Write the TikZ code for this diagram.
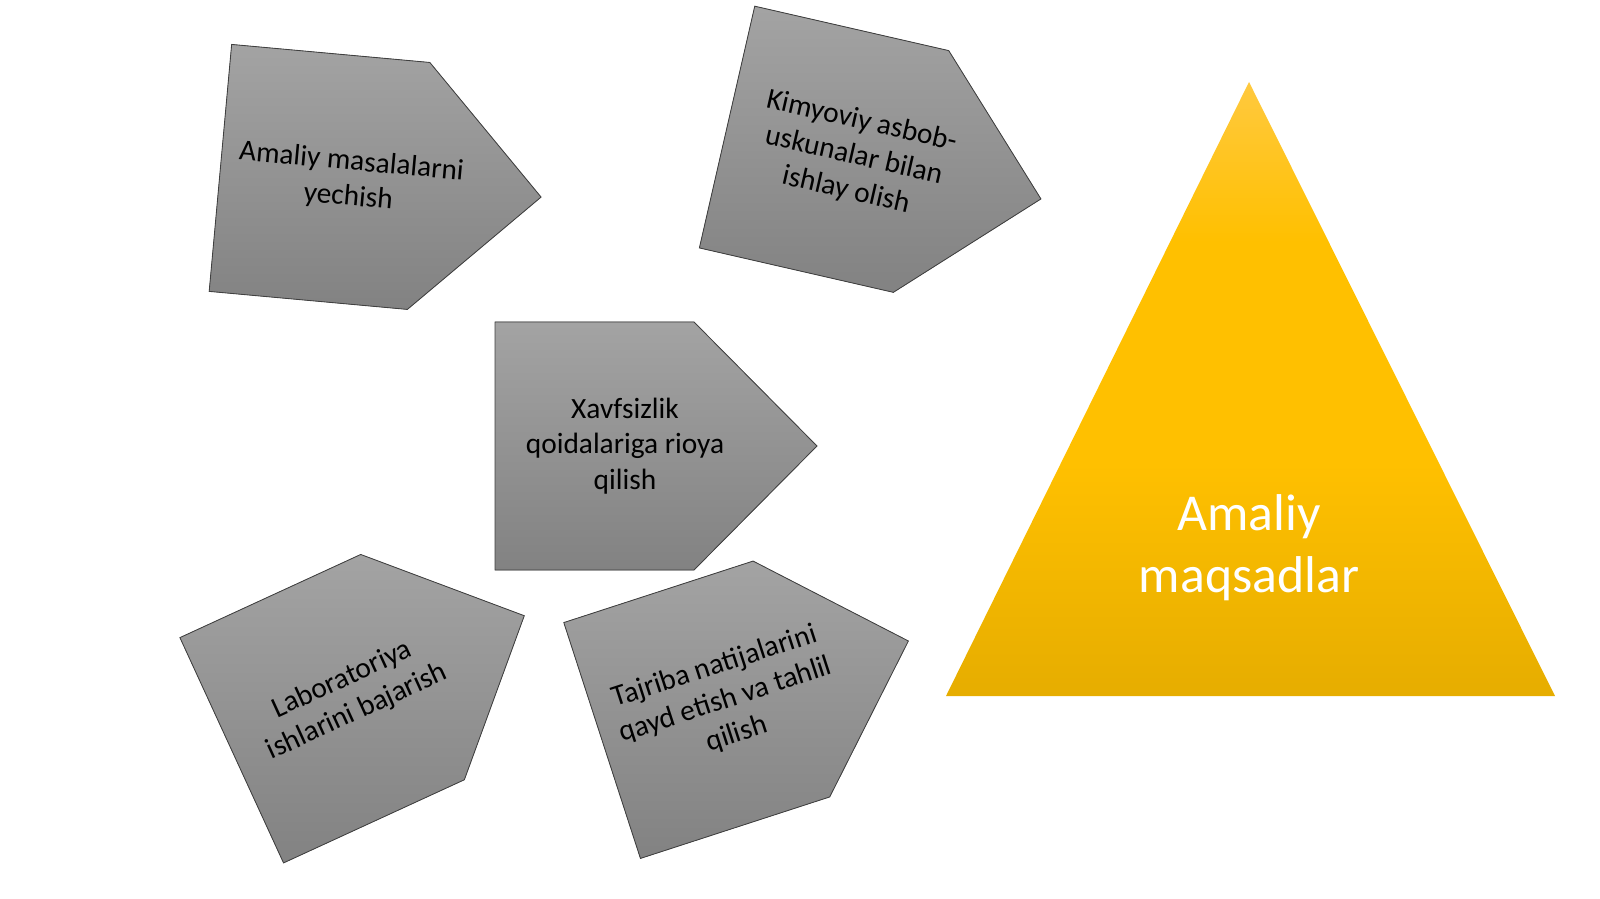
\documentclass[tikz,border=0pt]{standalone}
\usepackage{fontspec}
\setmainfont{Carlito}

\definecolor{goldtop}{HTML}{FFC93F}
\definecolor{goldmid}{HTML}{FFC000}
\definecolor{goldbot}{HTML}{E6AD00}
\pgfdeclareverticalshading{goldfade}{100bp}{color(0bp)=(goldbot); color(25bp)=(goldbot); color(44bp)=(goldmid); color(62bp)=(goldmid); color(75bp)=(goldtop); color(100bp)=(goldtop)}

\tikzset{
  plate/.style={draw=black!75, line width=0.6pt, top color=black!36, bottom color=black!49},
  platetext/.style={align=center, text=black, font=\fontsize{20.9}{25.2}\selectfont},
  goal/.style={align=center, text=white, font=\fontsize{36.8}{44}\selectfont}
}

\begin{document}
\begin{tikzpicture}[x=0.025cm,y=-0.025cm]
		\useasboundingbox (0,0) rectangle (1600,899);
		% gray arrow plates: name / centre / angle / text
		\foreach \n/\cx/\cy/\a/\txt in {
			masala/380.75/182.5/-5.2/{Amaliy masalalarni\\yechish},
			asbob/884/163/-12.9/{Kimyoviy asbob-\\uskunalar bilan\\ishlay olish},
			xavf/656/446/0/{Xavfsizlik\\qoidalariga rioya\\qilish},
			lab/378/683/24.7/{Laboratoriya\\ishlarini bajarish},
			tajriba/755.25/690.75/18/{Tajriba natijalarini\\qayd etish va tahlil\\qilish}}
		{
			\begin{scope}[shift={(\cx,\cy)}, rotate=\a]
				\filldraw[plate] (-161,-124) -- (38,-124) -- (161,0) -- (38,124) -- (-161,124) -- cycle;
				\node[platetext, transform shape] (\n) at (-31,0) {\txt};
			\end{scope}
		}
		% triangle
		\coordinate (apex) at (1249,82);
		\coordinate (bl) at (946,696);
		\coordinate (br) at (1555,696);
		\shade[shading=goldfade] (apex) -- (br) -- (bl) -- cycle;
		\node[goal] (maqsad) at (1249,548) {Amaliy\\maqsadlar};
	\end{tikzpicture}
\end{document}
